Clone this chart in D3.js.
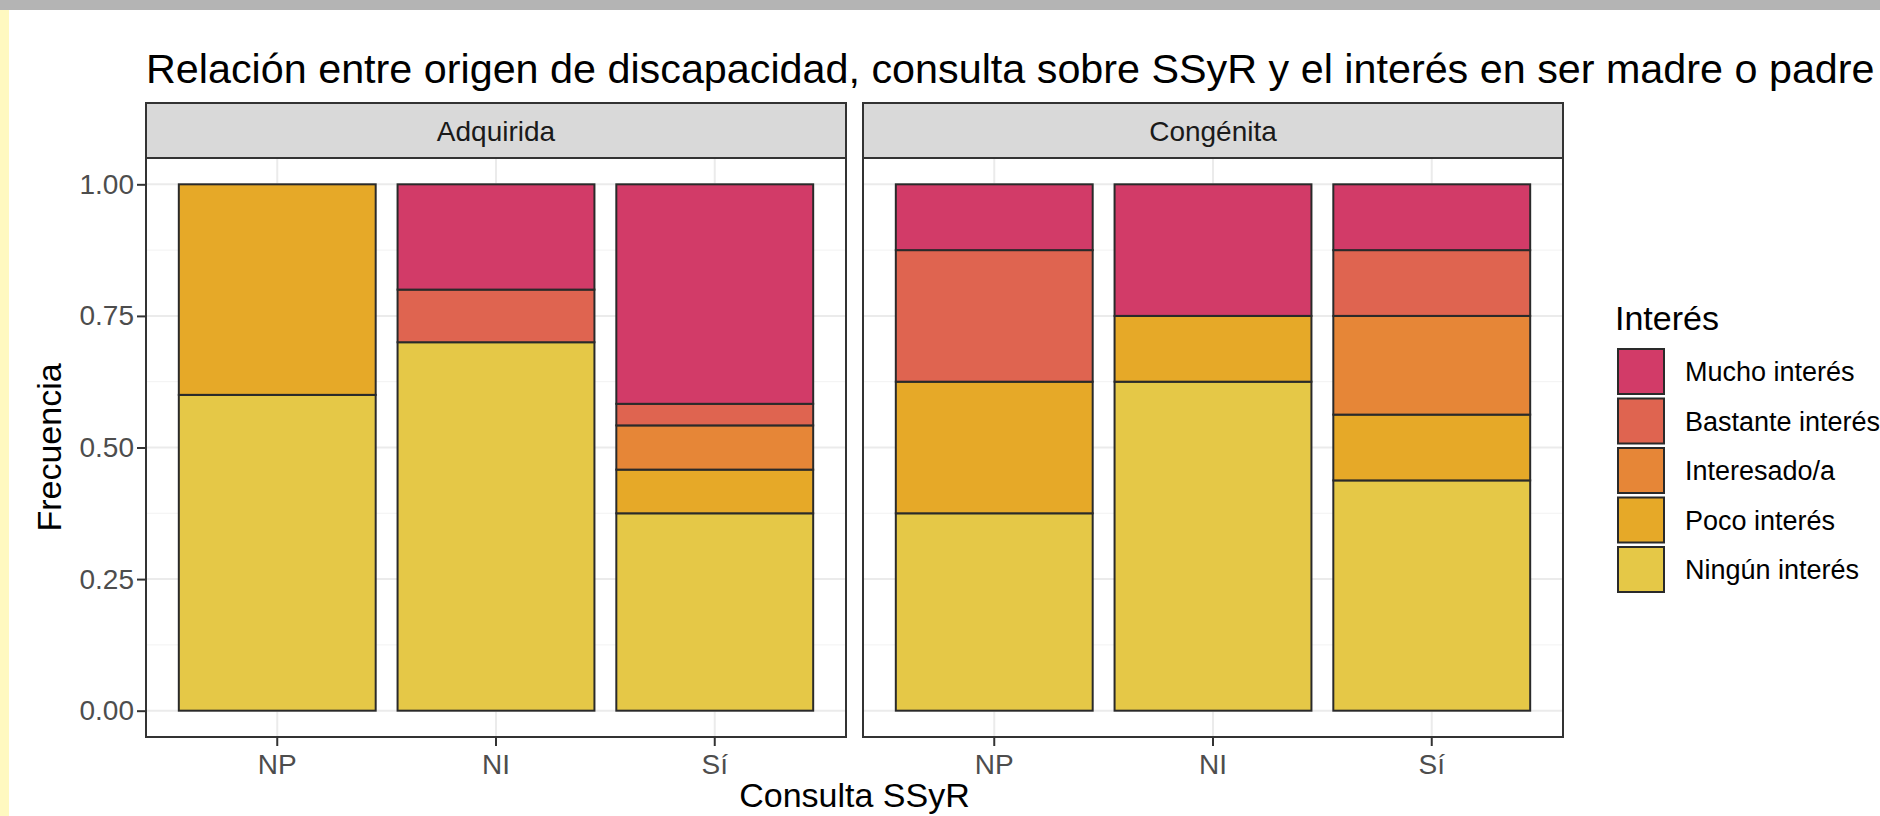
<!DOCTYPE html>
<html lang="es">
<head>
    <meta charset="UTF-8">
    <title>Relación entre origen de discapacidad, consulta sobre SSyR y el interés</title>
    <script src="https://cdn.jsdelivr.net/npm/d3@7/dist/d3.min.js"></script>
    <style>
        body { margin: 0; background: #fff; }
        text { font-family: "Liberation Sans", Arial, sans-serif; }
    </style>
</head>
<body>
    <script>
        // datos: proporciones por origen, consulta e interés
        var origenes = ["Adquirida", "Congénita"];
        var consultas = ["NP", "NI", "Sí"];
        var niveles = ["Mucho interés", "Bastante interés", "Interesado/a", "Poco interés", "Ningún interés"];
        var colores = ["#d23b68", "#df6450", "#e68637", "#e6a928", "#e5c847"];
        var yTicks = [0, 0.25, 0.5, 0.75, 1];
        var yMinor = [0.125, 0.375, 0.625, 0.875];

        // Adquirida  (NP, NI, Sí)
        var adqNingun     = [0.60, 0.70, 0.375];
        var adqPoco       = [0.40, 0,    0.083];
        var adqInteresado = [0,    0,    0.084];
        var adqBastante   = [0,    0.10, 0.041];
        var adqMucho      = [0,    0.20, 0.417];
        // Congénita  (NP, NI, Sí)
        var conNingun     = [0.375, 0.625, 0.4375];
        var conPoco       = [0.25,  0.125, 0.125];
        var conInteresado = [0,     0,     0.1875];
        var conBastante   = [0.25,  0,     0.125];
        var conMucho      = [0.125, 0.25,  0.125];

        var series = {
            "Adquirida": [adqMucho, adqBastante, adqInteresado, adqPoco, adqNingun],
            "Congénita": [conMucho, conBastante, conInteresado, conPoco, conNingun]
        };

        var width = 1880, height = 816;
        var svg = d3.select("body").append("svg").attr("width", width).attr("height", height);

        // marco de la captura
        svg.append("rect").attr("x", 0).attr("y", 0).attr("width", width).attr("height", 10).attr("fill", "#b4b4b4");
        svg.append("rect").attr("x", 0).attr("y", 10).attr("width", 9).attr("height", height - 10).attr("fill", "#fff9c0");

        var panelW = 700, gap = 17, left = 146;
        var stripTop = 103, stripH = 55, panelTop = 158, panelBottom = 737;

        var y = d3.scaleLinear().domain([-0.05, 1.05]).range([panelBottom, panelTop]);
        var color = d3.scaleOrdinal().domain(niveles).range(colores);

        svg.append("text")
            .attr("x", left).attr("y", 83)
            .attr("font-size", 41.3).attr("fill", "#000")
            .text("Relación entre origen de discapacidad, consulta sobre SSyR y el interés en ser madre o padre");

        origenes.forEach(function (orig, p) {
            var x0 = left + p * (panelW + gap);
            var g = svg.append("g").attr("transform", "translate(" + x0 + ",0)");
            var x = d3.scaleBand().domain(consultas).range([0, panelW]).paddingInner(0.1).paddingOuter(0.15);

            // filas para d3.stack
            var filas = consultas.map(function (c, i) {
                var row = { consulta: c };
                niveles.forEach(function (n, k) { row[n] = series[orig][k][i]; });
                return row;
            });
            var stack = d3.stack().keys(niveles.slice().reverse());
            var capas = stack(filas);

            // fondo y cuadrícula
            g.append("rect").attr("x", 0).attr("y", panelTop).attr("width", panelW)
                .attr("height", panelBottom - panelTop).attr("fill", "#fff");
            g.selectAll(".minor").data(yMinor).enter().append("line")
                .attr("x1", 0).attr("x2", panelW)
                .attr("y1", function (d) { return y(d); }).attr("y2", function (d) { return y(d); })
                .attr("stroke", "#f2f2f2").attr("stroke-width", 1);
            g.selectAll(".gy").data(yTicks).enter().append("line")
                .attr("x1", 0).attr("x2", panelW)
                .attr("y1", function (d) { return y(d); }).attr("y2", function (d) { return y(d); })
                .attr("stroke", "#ebebeb").attr("stroke-width", 2);
            g.selectAll(".gx").data(consultas).enter().append("line")
                .attr("y1", panelTop).attr("y2", panelBottom)
                .attr("x1", function (d) { return x(d) + x.bandwidth() / 2; })
                .attr("x2", function (d) { return x(d) + x.bandwidth() / 2; })
                .attr("stroke", "#ebebeb").attr("stroke-width", 2);

            // barras apiladas
            g.selectAll(".capa").data(capas).enter().append("g")
                .attr("fill", function (d) { return color(d.key); })
                .selectAll("rect")
                .data(function (d) { return d.filter(function (s) { return s[1] - s[0] > 0; }); })
                .enter().append("rect")
                .attr("x", function (d) { return x(d.data.consulta); })
                .attr("width", x.bandwidth())
                .attr("y", function (d) { return y(d[1]); })
                .attr("height", function (d) { return y(d[0]) - y(d[1]); })
                .attr("stroke", "#2a2a2a").attr("stroke-width", 2);

            // borde del panel
            g.append("rect").attr("x", 0).attr("y", panelTop).attr("width", panelW)
                .attr("height", panelBottom - panelTop).attr("fill", "none")
                .attr("stroke", "#333").attr("stroke-width", 2);

            // tira de faceta
            g.append("rect").attr("x", 0).attr("y", stripTop).attr("width", panelW).attr("height", stripH)
                .attr("fill", "#d9d9d9").attr("stroke", "#333").attr("stroke-width", 2);
            g.append("text").attr("x", panelW / 2).attr("y", stripTop + stripH / 2)
                .attr("dy", "0.36em").attr("text-anchor", "middle")
                .attr("font-size", 28).attr("fill", "#1a1a1a").text(orig);

            // eje x
            var ax = g.append("g").attr("transform", "translate(0," + panelBottom + ")")
                .call(d3.axisBottom(x).tickSize(9).tickPadding(8));
            ax.select(".domain").remove();
            ax.selectAll(".tick line").attr("stroke", "#333").attr("stroke-width", 2);
            ax.selectAll(".tick text").attr("font-size", 28).attr("fill", "#4d4d4d")
                .attr("font-family", "Liberation Sans, Arial, sans-serif");

            if (p === 0) {
                var ay = g.append("g")
                    .call(d3.axisLeft(y).tickValues(yTicks).tickFormat(d3.format(".2f")).tickSize(9).tickPadding(3));
                ay.select(".domain").remove();
                ay.selectAll(".tick line").attr("stroke", "#333").attr("stroke-width", 2);
                ay.selectAll(".tick text").attr("font-size", 28).attr("fill", "#4d4d4d")
                    .attr("font-family", "Liberation Sans, Arial, sans-serif");
            }
        });

        // títulos de ejes
        svg.append("text")
            .attr("transform", "translate(61," + ((panelTop + panelBottom) / 2) + ") rotate(-90)")
            .attr("text-anchor", "middle").attr("font-size", 34).attr("fill", "#000")
            .text("Frecuencia");
        svg.append("text")
            .attr("x", left + panelW + gap / 2).attr("y", 807)
            .attr("text-anchor", "middle").attr("font-size", 34).attr("fill", "#000")
            .text("Consulta SSyR");

        // leyenda
        var lg = svg.append("g").attr("transform", "translate(1615,0)");
        lg.append("text").attr("x", 0).attr("y", 330).attr("font-size", 34).attr("fill", "#000").text("Interés");
        var items = lg.selectAll(".item").data(niveles).enter().append("g")
            .attr("transform", function (d, i) { return "translate(3," + (349 + i * 49.5) + ")"; });
        items.append("rect").attr("width", 46).attr("height", 45)
            .attr("fill", function (d) { return color(d); })
            .attr("stroke", "#2a2a2a").attr("stroke-width", 2);
        items.append("text").attr("x", 67).attr("y", 22.5).attr("dy", "0.36em")
            .attr("font-size", 27).attr("fill", "#000").text(function (d) { return d; });
    </script>
</body>
</html>
